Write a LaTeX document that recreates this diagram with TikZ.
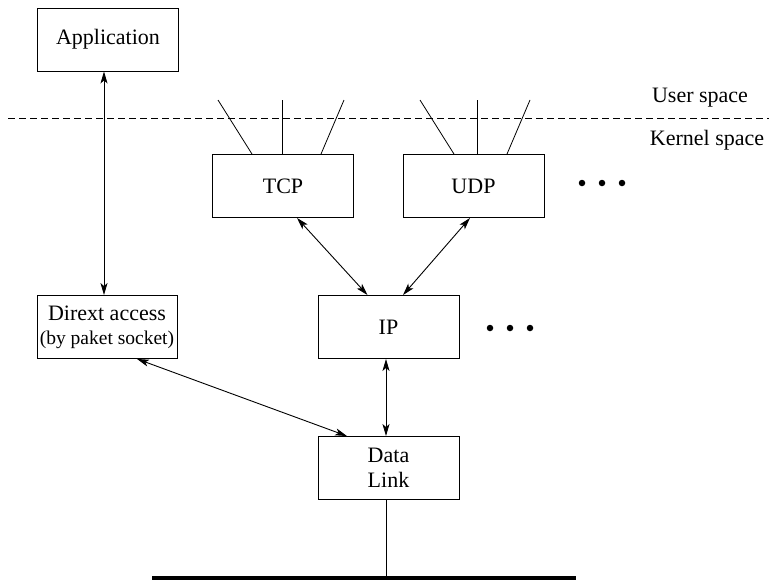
\documentclass[tikz,border=0pt]{standalone}
\usepackage{fontspec}
\setmainfont{Liberation Serif}
\usetikzlibrary{arrows.meta}
\begin{document}
\begin{tikzpicture}[x=1pt,y=-1pt,
  layer/.style={draw, line width=0.9pt, rectangle, minimum width=141pt, minimum height=63pt,
    inner sep=0pt, align=center, font=\fontsize{22}{25}\selectfont},
  biarrow/.style={line width=0.9pt, {Stealth[length=12pt,width=7pt,inset=3pt]}-{Stealth[length=12pt,width=7pt,inset=3pt]}},
  wire/.style={line width=0.8pt},
  label/.style={font=\fontsize{22}{25}\selectfont, inner sep=0pt},
  dot/.style={circle, fill=black, inner sep=0pt, minimum size=6.5pt}]
\useasboundingbox (0,0) rectangle (769,581);

% protocol layers
\node[layer] (app) at (108,39.5) {Application};
\node[layer] (tcp) at (283,186) {TCP};
\node[layer] (udp) at (473.5,186) {UDP};
\node[layer] (ip) at (388.5,327) {IP};
\node[layer] (dl) at (388.5,468) {Data\\Link};
\node[layer, minimum width=140pt] (direct) at (107,327)
  {Dirext access\\[-1pt]{\fontsize{19.5}{22}\selectfont (by paket socket)}};

% user/kernel boundary
\draw[line width=0.7pt, dash pattern=on 6.5pt off 4.5pt] (8,118) coordinate (bl) -- (769,118) coordinate (br);
\node[label] (user) at (700,98) {User space};
\node[label] (kernel) at (707,140) {Kernel space};

% sockets above the transport layers
\coordinate (t1) at (218,100);
\coordinate (t2) at (282,100);
\coordinate (t3) at (344,100);
\coordinate (u1) at (420,100);
\coordinate (u2) at (477,100);
\coordinate (u3) at (530,100);
\draw[wire] ([xshift=-31pt]tcp.north) -- (t1);
\draw[wire] ([xshift=-1pt]tcp.north) -- (t2);
\draw[wire] ([xshift=38pt]tcp.north) -- (t3);
\draw[wire] ([xshift=-19.5pt]udp.north) -- (u1);
\draw[wire] ([xshift=3.5pt]udp.north) -- (u2);
\draw[wire] ([xshift=33.5pt]udp.north) -- (u3);

% further protocols
\node[dot] (d1) at (582,183) {};
\node[dot] (d2) at (602,183) {};
\node[dot] (d3) at (622,183) {};
\node[dot] (e1) at (490,328) {};
\node[dot] (e2) at (510,328) {};
\node[dot] (e3) at (530,328) {};

% data paths
\draw[biarrow] ([xshift=-4pt]app.south) -- ([xshift=-3pt]direct.north);
\draw[biarrow] ([xshift=14pt]tcp.south) -- ([xshift=-21pt]ip.north);
\draw[biarrow] ([xshift=-3.5pt]udp.south) -- ([xshift=14.5pt]ip.north);
\draw[biarrow] ([xshift=-2.5pt]ip.south) -- ([xshift=-2.5pt]dl.north);
\draw[biarrow] ([xshift=30pt]direct.south) -- ([xshift=-41.5pt]dl.north);

% physical medium
\coordinate (busl) at (152,577.5);
\coordinate (busr) at (576,577.5);
\draw[line width=4pt] (busl) -- (busr);
\draw[wire] ([xshift=-2.5pt]dl.south) -- ([xshift=-2.5pt]dl.south |- busl);
\end{tikzpicture}
\end{document}
